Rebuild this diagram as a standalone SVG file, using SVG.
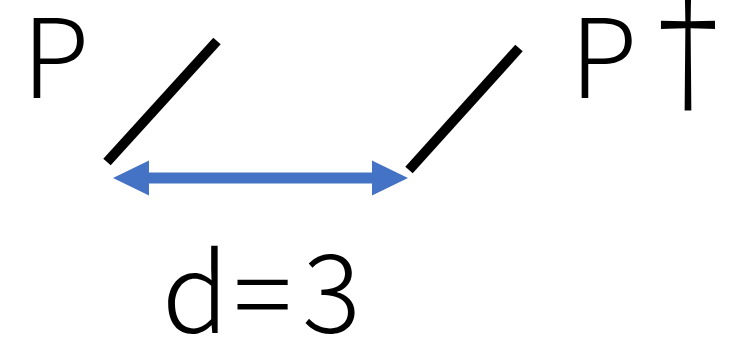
<svg xmlns="http://www.w3.org/2000/svg" width="730" height="346" viewBox="0 0 730 346">
<style>
.t{font-family:"Noto Sans CJK JP","Noto Sans",sans-serif;font-size:110px;font-weight:300;fill:#000}
.bar{stroke:#000;stroke-width:10;stroke-linecap:butt}
</style>
<rect width="730" height="346" fill="#fff"/>
<g id="labelP"><text class="t" x="22" y="98">P</text></g>
<g id="labelPdag"><text class="t" x="570" y="98">P</text><text class="t" x="0" y="0" text-anchor="middle" transform="translate(688,101) scale(1.05,1.42)">†</text></g>
<g id="mirrorLeft"><line class="bar" x1="107" y1="162" x2="217" y2="41"/></g>
<g id="mirrorRight"><line class="bar" x1="409" y1="170" x2="519" y2="48"/></g>
<g id="connectors">
<path d="M113,178 L149,160.5 L149,172.5 L372,172.5 L372,160.5 L408,178 L372,195.5 L372,183.5 L149,183.5 L149,195.5 Z" fill="#4472C4"/>
</g>
<g id="labelD"><text class="t" x="162" y="333">d</text><text class="t" x="0" y="0" text-anchor="middle" transform="translate(262.5,336) scale(0.62,1)">＝</text><text class="t" x="302" y="333">3</text></g>
</svg>
